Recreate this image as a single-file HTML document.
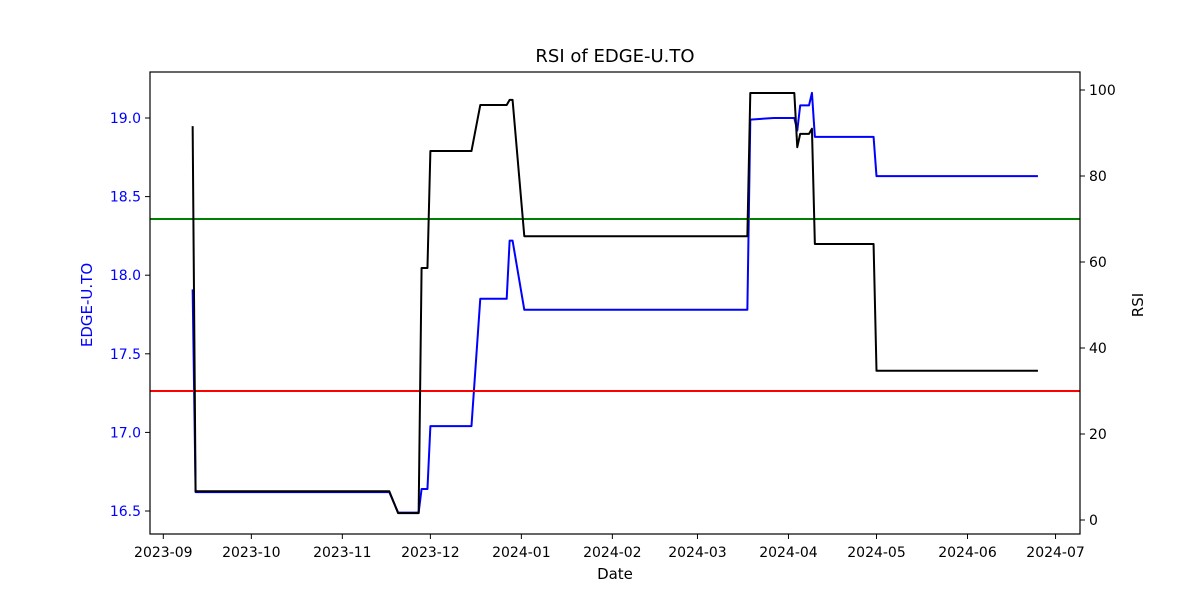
<!DOCTYPE html>
<html><head><meta charset="utf-8"><style>
body{margin:0;background:#fff;}
svg text{font-family:"DejaVu Sans","Liberation Sans",sans-serif;}
</style></head><body>
<svg id="chart" width="1200" height="600" xmlns="http://www.w3.org/2000/svg">
<rect width="1200" height="600" fill="#fff"/>
<text x="615" y="62" font-size="18" text-anchor="middle">RSI of EDGE-U.TO</text>
<g id="plot"></g>
<rect x="150" y="72" width="930" height="462" fill="none" stroke="#000" stroke-width="1.2"/>
<text x="615" y="579" font-size="15" text-anchor="middle">Date</text>
<text transform="translate(92,305) rotate(-90)" font-size="15" fill="blue" text-anchor="middle">EDGE-U.TO</text>
<text transform="translate(1143,305) rotate(-90)" font-size="15" text-anchor="middle">RSI</text>
</svg>
<script>
const dates = ["2023-09-11","2023-09-12","2023-11-17","2023-11-20","2023-11-27","2023-11-28","2023-11-30","2023-12-01","2023-12-15","2023-12-18","2023-12-27","2023-12-28","2023-12-29","2024-01-02","2024-03-18","2024-03-19","2024-03-27","2024-04-03","2024-04-04","2024-04-05","2024-04-08","2024-04-09","2024-04-10","2024-04-30","2024-05-01","2024-06-25"];
const prices = [17.91,16.62,16.62,16.49,16.49,16.64,16.64,17.04,17.04,17.85,17.85,18.22,18.22,17.78,17.78,18.99,19.00,19.00,18.92,19.08,19.08,19.16,18.88,18.88,18.63,18.63];
const rsi = [91.6,6.7,6.7,1.6,1.6,58.6,58.6,85.8,85.8,96.5,96.5,97.7,97.7,66.0,66.0,99.3,99.3,99.3,86.7,89.8,89.8,91.0,64.2,64.2,34.7,34.7];
const priceTicks = [16.5,17.0,17.5,18.0,18.5,19.0];
const rsiTicks = [0,20,40,60,80,100];
const monthTicks = ["2023-09","2023-10","2023-11","2023-12","2024-01","2024-02","2024-03","2024-04","2024-05","2024-06","2024-07"];
const overbought = 70, oversold = 30;

const NS="http://www.w3.org/2000/svg";
const g=document.getElementById('plot');
const t0=Date.UTC(2023,8,1);
function xs(s){const p=s.split('-');const t=Date.UTC(+p[0],+p[1]-1,p[2]?+p[2]:1);return 163.3+(t-t0)/86400000*2.935;}
function yp(v){return 511-(v-16.5)*157.2;}
function yr(v){return 520-v*4.3;}
function mk(tag,attrs){const e=document.createElementNS(NS,tag);for(const k in attrs)e.setAttribute(k,attrs[k]);g.appendChild(e);return e;}

monthTicks.forEach(m=>{const x=xs(m);
 const l=mk('line',{x1:x,x2:x,y1:534,y2:539,stroke:'#000'});
 
 
 const t=mk('text',{x:x,y:557,'font-size':14,'text-anchor':'middle'});t.textContent=m;
 
 
});
priceTicks.forEach(v=>{const y=yp(v);
 const l=mk('line',{x1:145,x2:150,y1:y,y2:y,stroke:'#000'});
 
 
 const t=mk('text',{x:141,y:y+5,'font-size':14,'text-anchor':'end',fill:'blue'});t.textContent=v.toFixed(1);
 
 
});
rsiTicks.forEach(v=>{const y=yr(v);
 const l=mk('line',{x1:1080,x2:1085,y1:y,y2:y,stroke:'#000'});
 
 
 const t=mk('text',{x:1089,y:y+5,'font-size':14});t.textContent=v;
 
 
});
const pp=mk('polyline',{points:dates.map((d,i)=>xs(d)+','+yp(prices[i])).join(' '),fill:'none',stroke:'blue','stroke-width':2,'stroke-linejoin':'round'});


const ob=mk('line',{x1:150,x2:1080,y1:yr(overbought),y2:yr(overbought),stroke:'green','stroke-width':2});


const os=mk('line',{x1:150,x2:1080,y1:yr(oversold),y2:yr(oversold),stroke:'red','stroke-width':2});


const rp=mk('polyline',{points:dates.map((d,i)=>xs(d)+','+yr(rsi[i])).join(' '),fill:'none',stroke:'#000','stroke-width':2,'stroke-linejoin':'round'});


</script>
</body></html>
